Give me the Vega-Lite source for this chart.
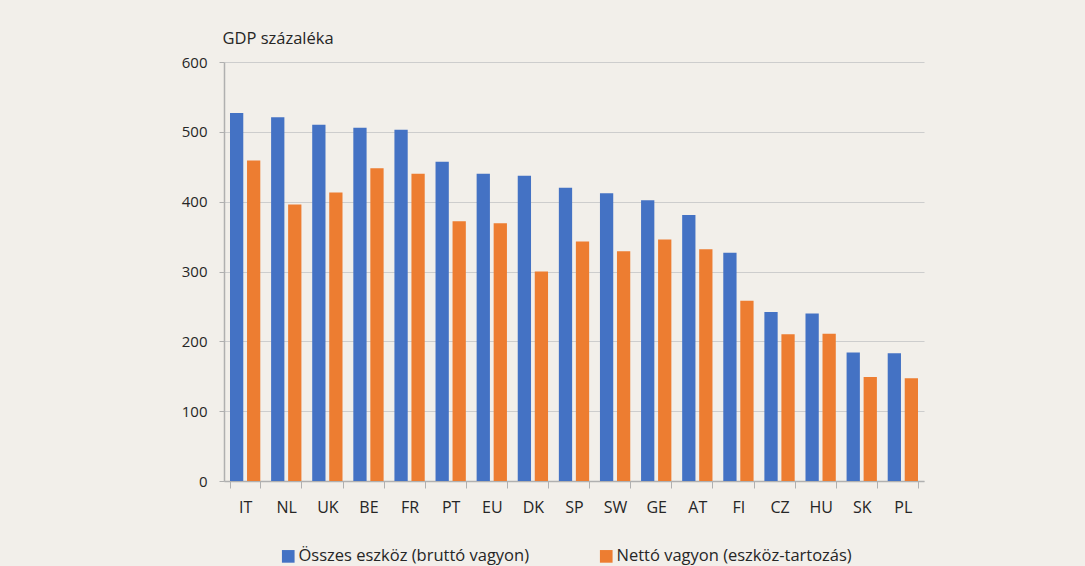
{
  "$schema": "https://vega.github.io/schema/vega-lite/v6.json",
  "width": 700,
  "height": 419,
  "autosize": {"type": "none"},
  "padding": {"left": 224, "top": 62, "right": 161, "bottom": 85},
  "background": "#f2efea",
  "config": {
    "view": {"stroke": null},
    "font": "Open Sans",
    "axis": {"labelColor": "#262626", "titleColor": "#262626", "domainColor": "#b0b0b0", "tickColor": "#b0b0b0", "gridColor": "#cdcdcd"}
  },
  "data": {
    "values": [
      {"country": "IT", "series": "Összes eszköz (bruttó vagyon)", "value": 527},
      {"country": "IT", "series": "Nettó vagyon (eszköz-tartozás)", "value": 459},
      {"country": "NL", "series": "Összes eszköz (bruttó vagyon)", "value": 521},
      {"country": "NL", "series": "Nettó vagyon (eszköz-tartozás)", "value": 396},
      {"country": "UK", "series": "Összes eszköz (bruttó vagyon)", "value": 510},
      {"country": "UK", "series": "Nettó vagyon (eszköz-tartozás)", "value": 413},
      {"country": "BE", "series": "Összes eszköz (bruttó vagyon)", "value": 506},
      {"country": "BE", "series": "Nettó vagyon (eszköz-tartozás)", "value": 448},
      {"country": "FR", "series": "Összes eszköz (bruttó vagyon)", "value": 503},
      {"country": "FR", "series": "Nettó vagyon (eszköz-tartozás)", "value": 440},
      {"country": "PT", "series": "Összes eszköz (bruttó vagyon)", "value": 457},
      {"country": "PT", "series": "Nettó vagyon (eszköz-tartozás)", "value": 372},
      {"country": "EU", "series": "Összes eszköz (bruttó vagyon)", "value": 440},
      {"country": "EU", "series": "Nettó vagyon (eszköz-tartozás)", "value": 369},
      {"country": "DK", "series": "Összes eszköz (bruttó vagyon)", "value": 437},
      {"country": "DK", "series": "Nettó vagyon (eszköz-tartozás)", "value": 300},
      {"country": "SP", "series": "Összes eszköz (bruttó vagyon)", "value": 420},
      {"country": "SP", "series": "Nettó vagyon (eszköz-tartozás)", "value": 343},
      {"country": "SW", "series": "Összes eszköz (bruttó vagyon)", "value": 412},
      {"country": "SW", "series": "Nettó vagyon (eszköz-tartozás)", "value": 329},
      {"country": "GE", "series": "Összes eszköz (bruttó vagyon)", "value": 402},
      {"country": "GE", "series": "Nettó vagyon (eszköz-tartozás)", "value": 346},
      {"country": "AT", "series": "Összes eszköz (bruttó vagyon)", "value": 381},
      {"country": "AT", "series": "Nettó vagyon (eszköz-tartozás)", "value": 332},
      {"country": "FI", "series": "Összes eszköz (bruttó vagyon)", "value": 327},
      {"country": "FI", "series": "Nettó vagyon (eszköz-tartozás)", "value": 258},
      {"country": "CZ", "series": "Összes eszköz (bruttó vagyon)", "value": 242},
      {"country": "CZ", "series": "Nettó vagyon (eszköz-tartozás)", "value": 210},
      {"country": "HU", "series": "Összes eszköz (bruttó vagyon)", "value": 240},
      {"country": "HU", "series": "Nettó vagyon (eszköz-tartozás)", "value": 211},
      {"country": "SK", "series": "Összes eszköz (bruttó vagyon)", "value": 184},
      {"country": "SK", "series": "Nettó vagyon (eszköz-tartozás)", "value": 149},
      {"country": "PL", "series": "Összes eszköz (bruttó vagyon)", "value": 183},
      {"country": "PL", "series": "Nettó vagyon (eszköz-tartozás)", "value": 147}
    ]
  },
  "mark": {"type": "bar"},
  "encoding": {
    "x": {
      "field": "country",
      "type": "nominal",
      "sort": null,
      "scale": {"paddingInner": 0.263, "paddingOuter": 0.146},
      "axis": {"title": null, "labelAngle": 0, "labelFontSize": 16, "labelPadding": 11, "tickSize": 7, "tickBand": "extent", "domainWidth": 1.5}
    },
    "xOffset": {
      "field": "series",
      "type": "nominal",
      "sort": null,
      "scale": {"paddingInner": 0.22, "paddingOuter": 0}
    },
    "y": {
      "field": "value",
      "type": "quantitative",
      "scale": {"domain": [0, 600], "nice": false},
      "axis": {
        "title": "GDP százaléka",
        "titleAngle": 0,
        "titleAlign": "left",
        "titleBaseline": "alphabetic",
        "titleX": -2,
        "titleY": -19,
        "titleFontSize": 16.5,
        "titleFontWeight": "normal",
        "values": [0, 100, 200, 300, 400, 500, 600],
        "labelFontSize": 15,
        "labelPadding": 12,
        "tickSize": 5,
        "domainWidth": 1.5
      }
    },
    "color": {
      "field": "series",
      "type": "nominal",
      "sort": null,
      "scale": {"range": ["#4472C4", "#ED7D31"]},
      "legend": {
        "title": null,
        "orient": "none",
        "direction": "horizontal",
        "legendX": 56,
        "legendY": 486,
        "symbolType": "square",
        "symbolSize": 160,
        "symbolStrokeWidth": 0,
        "labelFontSize": 16.5,
        "labelColor": "#262626",
        "labelOffset": 2,
        "columnPadding": 68,
        "labelLimit": 400
      }
    }
  }
}
